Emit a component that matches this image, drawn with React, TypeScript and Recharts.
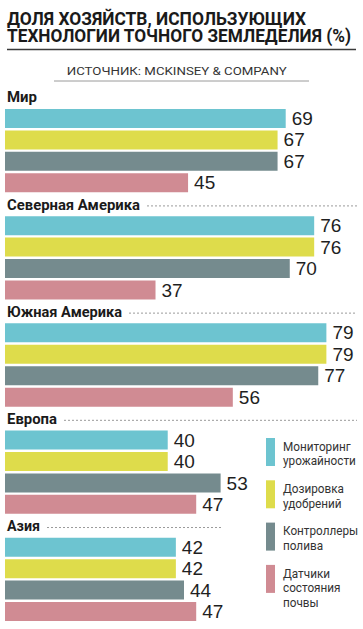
import React from "react";
import { BarChart, Bar, XAxis, YAxis, Cell, LabelList, Legend } from "recharts";

// regions and technologies
const regions = ["Мир", "Северная Америка", "Южная Америка", "Европа", "Азия"];
const technologies = [
  "Мониторинг урожайности",
  "Дозировка удобрений",
  "Контроллеры полива",
  "Датчики состояния почвы",
];

// share of farms (%), one array per technology, in the order of regions
const yieldMonitoring = [69, 76, 79, 40, 42];
const fertilizerDosing = [67, 76, 79, 40, 42];
const irrigationControllers = [67, 70, 77, 53, 44];
const soilSensors = [45, 37, 56, 47, 47];

const colors = ["#6dc4d0", "#dedc4b", "#758b8e", "#d08b93"];

// layout only: width of each region caption and where its dotted rule ends
const regionLabelWidth = [30, 133, 115, 50, 33];
const regionRuleEnd = [0, 357, 357, 357, 222];

const W = 363;
const H = 629;

type Row = {
  id: string;
  region: number;
  header: boolean;
  tech: number;
  value: number | null;
};

const series = [yieldMonitoring, fertilizerDosing, irrigationControllers, soilSensors];

const rows: Row[] = [];
regions.forEach((_, r) => {
  rows.push({ id: `h${r}`, region: r, header: true, tech: -1, value: null });
  series.forEach((vals, t) => {
    rows.push({ id: `r${r}-${t}`, region: r, header: false, tech: t, value: vals[r] });
  });
});

const RegionTick = (props: any) => {
  const { y, payload, index } = props;
  const row =
    rows.find((d) => d.id === (payload && payload.value)) ??
    (typeof index === "number" ? rows[index] : undefined);
  if (!row || !row.header) return <g />;
  const r = row.region;
  const labelEnd = 7 + regionLabelWidth[r];
  return (
    <g>
      <text
        x={7}
        y={y + 5.2}
        fontFamily="Roboto, sans-serif"
        fontWeight={700}
        fontSize={15}
        fill="#1a1a1a"
        textLength={regionLabelWidth[r]}
        lengthAdjust="spacingAndGlyphs"
      >
        {regions[r]}
      </text>
      {regionRuleEnd[r] > 0 && (
        <line
          x1={labelEnd + 7}
          x2={regionRuleEnd[r]}
          y1={y + 1.5}
          y2={y + 1.5}
          stroke="#9a9a9a"
          strokeWidth={1}
          strokeDasharray="2 2"
        />
      )}
    </g>
  );
};

const ValueLabel = (props: any) => {
  const { x, y, width, height, value } = props;
  if (value === null || value === undefined) return null;
  return (
    <text
      x={x + width + 6}
      y={y + height / 2 + 6.6}
      fontFamily="'Liberation Sans', Arial, sans-serif"
      fontSize={19}
      fill="#1f1f1f"
    >
      {value}
    </text>
  );
};

const LegendBox = () => (
  <svg width={105} height={185} style={{ display: "block" }}>
    {technologies.map((name, i) => {
      const top = 4 + i * 42.3;
      const lines = name.split(" ");
      return (
        <g key={name}>
          <rect x={8} y={top} width={9} height={28} fill={colors[i]} />
          {lines.map((ln, k) => (
            <text
              key={ln}
              transform={`translate(25, ${top + 12.8 + k * 14.6}) scale(0.87, 1)`}
              fontFamily="Roboto, sans-serif"
              fontSize={13.5}
              fill="#333"
            >
              {ln}
            </text>
          ))}
        </g>
      );
    })}
  </svg>
);

const App = () => {
  return (
    <div
      style={{
        position: "fixed",
        left: 0,
        top: 0,
        width: W,
        height: H,
        background: "#fff",
        overflow: "hidden",
      }}
    >
      <BarChart
        width={W}
        height={H}
        data={rows}
        layout="vertical"
        margin={{ top: 86.5, right: 0, bottom: 6.5, left: 4 }}
      >
        <XAxis type="number" domain={[0, 88]} hide />
        <YAxis
          type="category"
          dataKey="id"
          width={1}
          axisLine={false}
          tickLine={false}
          interval={0}
          minTickGap={0}
          tick={RegionTick}
        />
        <Legend
          layout="horizontal"
          verticalAlign="middle"
          align="center"
          content={LegendBox}
          wrapperStyle={{ position: "absolute", left: 258, top: 434, width: 105, height: 185 }}
        />
        <Bar dataKey="value" barSize={19} isAnimationActive={false}>
          {rows.map((d) => (
            <Cell key={d.id} fill={d.tech >= 0 ? colors[d.tech] : "transparent"} />
          ))}
          <LabelList dataKey="value" content={ValueLabel} />
        </Bar>
      </BarChart>

      {/* heading block */}
      <svg
        width={W}
        height={86}
        style={{ position: "absolute", left: 0, top: 0, pointerEvents: "none" }}
      >
        <text
          x={7}
          y={25.2}
          fontFamily="Roboto, sans-serif"
          fontWeight={700}
          fontSize={17.5}
          fill="#1a1a1a"
          textLength={299}
          lengthAdjust="spacingAndGlyphs"
        >
          ДОЛЯ ХОЗЯЙСТВ, ИСПОЛЬЗУЮЩИХ
        </text>
        <text
          x={7}
          y={41.8}
          fontFamily="Roboto, sans-serif"
          fontWeight={700}
          fontSize={17.5}
          fill="#1a1a1a"
          textLength={344}
          lengthAdjust="spacingAndGlyphs"
        >
          ТЕХНОЛОГИИ ТОЧНОГО ЗЕМЛЕДЕЛИЯ (%)
        </text>
        <line x1={7} x2={356} y1={49.5} y2={49.5} stroke="#3a3a3a" strokeWidth={1.3} />
        <text
          x={66.7}
          y={75}
          fontFamily="Roboto, sans-serif"
          fontSize={11.5}
          fill="#333"
          textLength={220}
          lengthAdjust="spacingAndGlyphs"
        >
          ИСТОЧНИК: MCKINSEY &amp; COMPANY
        </text>
        <line x1={54} x2={309} y1={81} y2={81} stroke="#9a9a9a" strokeWidth={1} />
      </svg>
    </div>
  );
};

export default App;
